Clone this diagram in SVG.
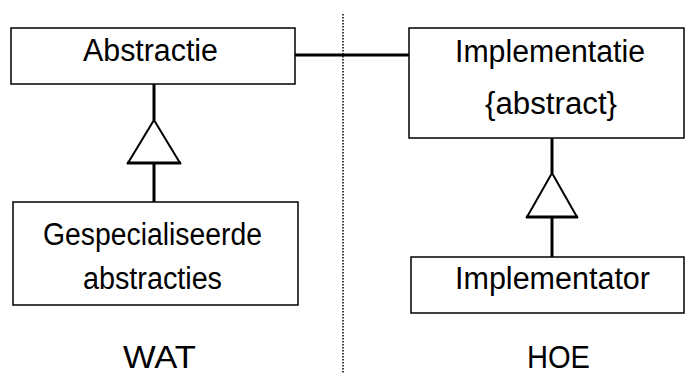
<svg xmlns="http://www.w3.org/2000/svg" width="685" height="374" viewBox="0 0 685 374">
  <style>
    .box { fill: #ffffff; stroke: #000000; stroke-width: 1.5; }
    .lbl { font-family: "Liberation Sans", Arial, sans-serif; font-size: 31px; fill: #000000; text-anchor: middle; }
    .link { stroke: #000000; stroke-width: 3; fill: none; }
    .tri { fill: #ffffff; stroke: #000000; stroke-width: 2; stroke-linejoin: miter; }
    .base { stroke: #000000; stroke-width: 3; }
    .divider { stroke: #000000; stroke-width: 1.5; stroke-dasharray: 1.5 1.5; }
  </style>
  <rect width="685" height="374" fill="#ffffff"/>

  <!-- WAT / HOE separator -->
  <line class="divider" x1="343" y1="14" x2="343" y2="374"/>

  <g id="connectors">
    <!-- association between the two hierarchies -->
    <line class="link" x1="295" y1="55" x2="409" y2="55"/>
    <!-- left generalisation -->
    <line class="link" x1="154" y1="84" x2="154" y2="120"/>
    <polygon class="tri" points="154,120 180,163 128,163"/>
    <line class="base" x1="127" y1="163" x2="181" y2="163"/>
    <line class="link" x1="154" y1="163" x2="154" y2="202"/>
    <!-- right generalisation -->
    <line class="link" x1="552" y1="138" x2="552" y2="173"/>
    <polygon class="tri" points="552,173 577,217 527,217"/>
    <line class="base" x1="526" y1="217" x2="578" y2="217"/>
    <line class="link" x1="552" y1="217" x2="552" y2="257"/>
  </g>

  <g id="abstractie">
    <rect class="box" x="11" y="28" width="284" height="56"/>
    <text class="lbl" x="150.5" y="61" textLength="135" lengthAdjust="spacingAndGlyphs">Abstractie</text>
  </g>

  <g id="implementatie">
    <rect class="box" x="409" y="28" width="275" height="110"/>
    <text class="lbl" x="550" y="62" textLength="190" lengthAdjust="spacingAndGlyphs">Implementatie</text>
    <text class="lbl" x="551" y="114" textLength="132" lengthAdjust="spacingAndGlyphs">{abstract}</text>
  </g>

  <g id="gespecialiseerde-abstracties">
    <rect class="box" x="13" y="202" width="285" height="103"/>
    <text class="lbl" x="152.5" y="245" textLength="219" lengthAdjust="spacingAndGlyphs">Gespecialiseerde</text>
    <text class="lbl" x="152.5" y="289" textLength="139" lengthAdjust="spacingAndGlyphs">abstracties</text>
  </g>

  <g id="implementator">
    <rect class="box" x="411" y="257" width="273" height="56"/>
    <text class="lbl" x="552.5" y="289" textLength="195" lengthAdjust="spacingAndGlyphs">Implementator</text>
  </g>

  <g id="wat">
    <text class="lbl" x="159.5" y="368" textLength="73" lengthAdjust="spacingAndGlyphs">WAT</text>
  </g>
  <g id="hoe">
    <text class="lbl" x="558.5" y="368" textLength="63" lengthAdjust="spacingAndGlyphs">HOE</text>
  </g>
</svg>
